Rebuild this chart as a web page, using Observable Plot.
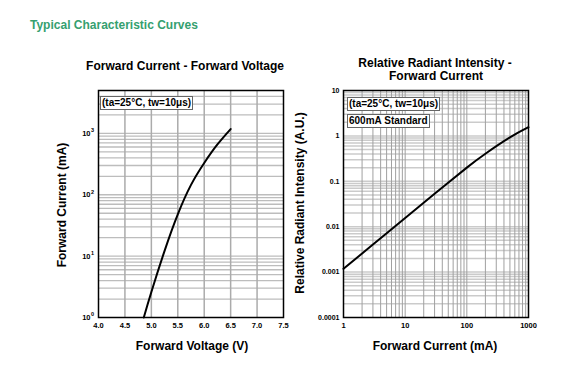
<!DOCTYPE html>
<html>
<head>
<meta charset="utf-8">
<script src="https://cdn.jsdelivr.net/npm/d3@7"></script>
<script src="https://cdn.jsdelivr.net/npm/@observablehq/plot@0.6"></script>
<style>
  html, body { margin: 0; padding: 0; background: #fff; }
  #wrap { position: relative; width: 571px; height: 375px; overflow: hidden; font-family: "Liberation Sans", Arial, sans-serif; }
  .t { position: absolute; white-space: nowrap; line-height: 1; font-weight: bold; color: #000; transform: translate(-50%, -50%); }
  .rot { transform: translate(-50%, -50%) rotate(-90deg); }
  .box { position: absolute; white-space: nowrap; line-height: 1; font-weight: bold; background: #fff; border: 1px solid #666; padding: 1px 1px; font-size: 10px; }
  .plotwrap { position: absolute; top: 0; }
  .plotwrap svg { overflow: visible; }
</style>
</head>
<body>
<div id="wrap">
  <div class="t" style="left:30px; top:25px; transform:translate(0,-50%); color:#35a06f; font-size:12px;">Typical Characteristic Curves</div>
  <div class="t" style="left:185px; top:66px; font-size:12px;">Forward Current - Forward Voltage</div>
  <div class="t" style="left:435px; top:63px; font-size:12px;">Relative Radiant Intensity -</div>
  <div class="t" style="left:436px; top:76px; font-size:12px;">Forward Current</div>
  <div class="t rot" style="left:62px; top:205px; font-size:12px;">Forward Current (mA)</div>
  <div class="t" style="left:192px; top:346px; font-size:12px;">Forward Voltage (V)</div>
  <div class="t rot" style="left:300px; top:203px; font-size:12px;">Relative Radiant Intensity (A.U.)</div>
  <div class="t" style="left:435px; top:346px; font-size:12px;">Forward Current (mA)</div>
  <div id="p1" class="plotwrap" style="left:0px;"></div>
  <div id="p2" class="plotwrap" style="left:300px;"></div>
  <div class="box" style="left:100px; top:96px;">(ta=25°C, tw=10μs)</div>
  <div class="box" style="left:347px; top:97px;">(ta=25°C, tw=10μs)</div>
  <div class="box" style="left:347px; top:114px;">600mA Standard</div>
</div>
<script>
// ---- Chart 1: Forward Current vs Forward Voltage ----
const fvVoltage = [4.857, 5.0, 5.25, 5.5, 5.75, 6.0, 6.25, 6.5];
const fvCurrent = [1, 2.6, 12.2, 48, 145, 330, 660, 1175];
const fvXTicks = [4.0, 4.5, 5.0, 5.5, 6.0, 6.5, 7.0, 7.5];
const fvXGrid = [4.5, 5.0, 5.5, 6.0, 6.5, 7.0];
const fvYTicks = [1, 10, 100, 1000];
const fvYTickExp = ["0", "1", "2", "3"];
const fvYGrid = [2,3,4,5,6,7,8,9,10,20,30,40,50,60,70,80,90,100,200,300,400,500,600,700,800,900,1000,2000,3000,4000];

// ---- Chart 2: Relative Radiant Intensity vs Forward Current ----
const riCurrent = [1, 3, 10, 30, 100, 200, 500, 1000];
const riIntensity = [0.00118, 0.00404, 0.0156, 0.0532, 0.2, 0.405, 0.925, 1.556];
const riXTicks = [1, 10, 100, 1000];
const riXGrid = [2,3,4,5,6,7,8,9,10,20,30,40,50,60,70,80,90,100,200,300,400,500,600,700,800,900];
const riYTicks = [0.0001, 0.001, 0.01, 0.1, 1, 10];
const riYGrid = [0.0002,0.0003,0.0004,0.0005,0.0006,0.0007,0.0008,0.0009,0.001,0.002,0.003,0.004,0.005,0.006,0.007,0.008,0.009,0.01,0.02,0.03,0.04,0.05,0.06,0.07,0.08,0.09,0.1,0.2,0.3,0.4,0.5,0.6,0.7,0.8,0.9,1,2,3,4,5,6,7,8,9];

const FONT = "Liberation Sans, Arial, sans-serif";

const fv = fvVoltage.map((v, i) => ({v, i: fvCurrent[i]}));
const p1 = Plot.plot({
  width: 300, height: 375,
  marginLeft: 98, marginRight: 17, marginTop: 90, marginBottom: 58,
  style: {fontFamily: FONT, background: "transparent", overflow: "visible"},
  x: {domain: [4.0, 7.5]},
  y: {type: "log", domain: [1, 5000]},
  marks: [
    Plot.ruleY(fvYGrid, {stroke: "#bdbdbd", strokeWidth: 1.3}),
    Plot.ruleX(fvXGrid, {stroke: "#ababab", strokeWidth: 1.5}),
    Plot.line(fv, {x: "v", y: "i", stroke: "#000", strokeWidth: 2, curve: "natural"}),
    Plot.frame({stroke: "#000", strokeWidth: 1.5}),
    Plot.axisX({ticks: fvXTicks, tickFormat: d3.format(".1f"), tickSize: 0, tickPadding: 5, fontSize: 7.5, fontWeight: "bold", label: null}),
    Plot.axisY({ticks: fvYTicks, tickFormat: d => "10", tickSize: 0, tickPadding: 8, fontSize: 7.5, fontWeight: "bold", label: null})
  ]
});
document.getElementById("p1").appendChild(p1);
// add superscript exponents to the "10" tick labels
d3.select(p1).selectAll("g[aria-label='y-axis tick label'] text").each(function(d, k) {
  const t = d3.select(this);
  const x = +t.attr("x") || 0;
  const y = +t.attr("y") || 0;
  d3.select(this.parentNode).append("text")
    .attr("transform", t.attr("transform"))
    .attr("x", x + 0.5).attr("y", y).attr("dy", "-0.2em")
    .attr("font-size", 5.5).attr("font-weight", "bold").attr("text-anchor", "start")
    .text(fvYTickExp[k]);
});

const ri = riCurrent.map((c, i) => ({c, r: riIntensity[i]}));
const p2 = Plot.plot({
  width: 271, height: 375,
  marginLeft: 43, marginRight: 43, marginTop: 90, marginBottom: 58,
  style: {fontFamily: FONT, background: "transparent", overflow: "visible"},
  x: {type: "log", domain: [1, 1000]},
  y: {type: "log", domain: [0.0001, 10]},
  marks: [
    Plot.ruleY(riYGrid, {stroke: "#cbcbcb", strokeWidth: 1.5}),
    Plot.ruleX(riXGrid, {stroke: "#a0a0a0", strokeWidth: 1}),
    Plot.line(ri, {x: "c", y: "r", stroke: "#000", strokeWidth: 2, curve: "natural"}),
    Plot.frame({stroke: "#000", strokeWidth: 1.5}),
    Plot.axisX({ticks: riXTicks, tickFormat: d3.format("~g"), tickSize: 0, tickPadding: 5, fontSize: 7.5, fontWeight: "bold", label: null}),
    Plot.axisY({ticks: riYTicks, tickFormat: d3.format("~g"), tickSize: 0, tickPadding: 4, fontSize: 7, fontWeight: "bold", label: null})
  ]
});
document.getElementById("p2").appendChild(p2);
</script>
</body>
</html>
